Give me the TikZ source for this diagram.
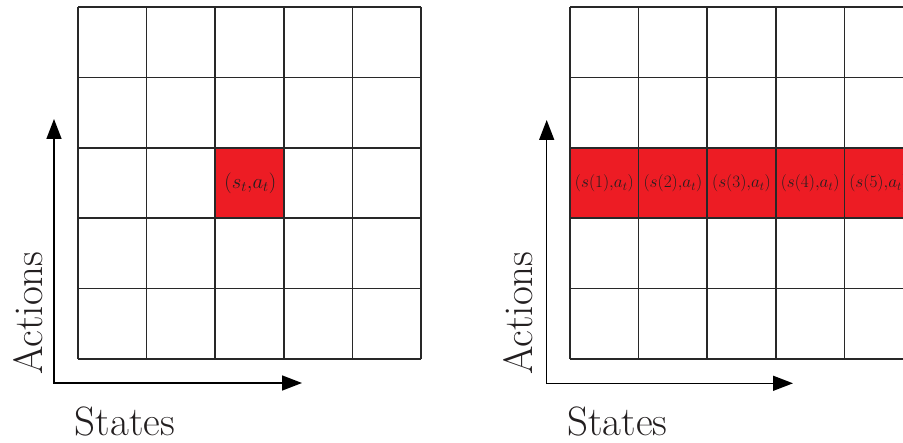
\documentclass[tikz,border=0pt]{standalone}
\usepackage{xcolor}
\usepackage{tikz}
\usetikzlibrary{arrows.meta,positioning,calc}
\definecolor{cellred}{RGB}{237,28,36}
\definecolor{gridgray}{RGB}{40,40,40}
\definecolor{inkblack}{RGB}{35,31,32}
\newcommand{\cw}{68.6}
\newcommand{\ch}{70.4}

\begin{document}
\begin{tikzpicture}[x=1pt, y=-1pt, >={Triangle[length=20pt,width=15pt]},
  gridline/.style={gridgray,line width=1.6pt},
  axisline/.style={<->,line width=1.5pt,black},
  axislabel/.style={font=\fontsize{41}{44}\selectfont,text=inkblack,inner sep=0pt},
  celllabel/.style={font=\fontsize{18}{20}\selectfont,text=inkblack,inner sep=0pt}]
  \useasboundingbox (0,0) rectangle (903,443);
  \clip (0,0) rectangle (903,443);
  % left panel: one highlighted cell
  \fill[cellred] (216,148) rectangle (284.6,218.4);
  \foreach \i in {0,...,5} {
    \draw[gridline] ({78+\i*\cw},7) -- ({78+\i*\cw},359);
    \draw[gridline] (78,{7+\i*\ch}) -- (421,{7+\i*\ch});
  }
  \node[celllabel,font=\fontsize{19.5}{21}\selectfont] (cellL) at (250.3,183.2) {$(s_t{,}a_t)$};
  % left axes
  \coordinate (oL) at (54,383);
  \coordinate (yL) at (54,119);
  \coordinate (xL) at (302,383);
  \draw[axisline] (yL) -- (oL) -- (xL);
  \node[axislabel,rotate=90,anchor=base] (actL) at (42,313) {Actions};
  \node[axislabel,anchor=base] (stL) at (125,436) {States};
  % right panel: the whole row highlighted
  \fill[cellred] (570,148) rectangle (912.5,218.4);
  \foreach \i in {0,...,5} {
    \draw[gridline] ({570+\i*\cw},7) -- ({570+\i*\cw},359);
    \draw[gridline] (570,{7+\i*\ch}) -- (913,{7+\i*\ch});
  }
  \foreach \k in {1,...,5}
    \node[celllabel] (cellR\k) at ({570+(\k-0.5)*\cw},183.2) {$(s(\k){,}a_t)$};
  % right axes
  \coordinate (oR) at (546.7,383.3);
  \coordinate (yR) at (546.7,120);
  \coordinate (xR) at (793,383.3);
  \draw[axisline] (yR) -- (oR) -- (xR);
  \node[axislabel,rotate=90,anchor=base] (actR) at (532,313) {Actions};
  \node[axislabel,anchor=base] (stR) at (617.5,436) {States};
\end{tikzpicture}
\end{document}
